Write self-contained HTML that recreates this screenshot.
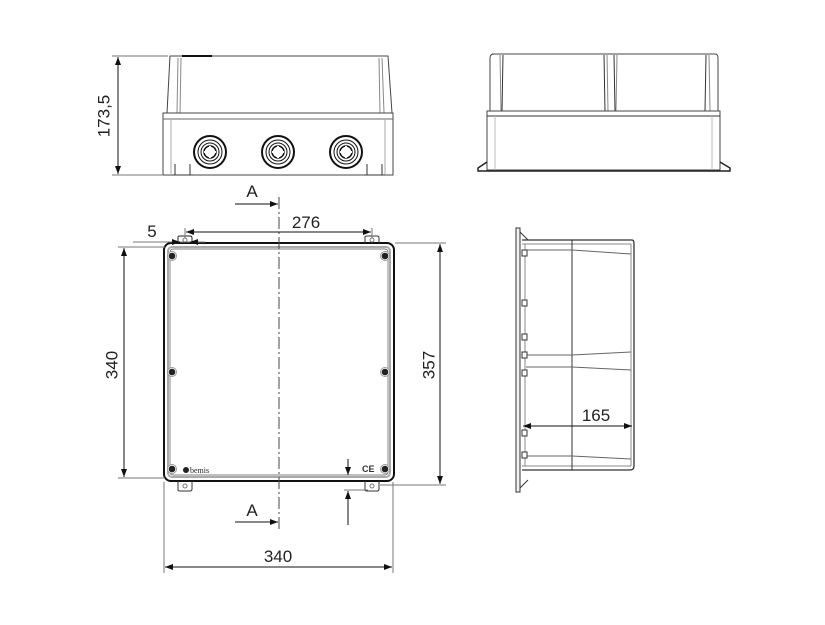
<!DOCTYPE html>
<html><head><style>body{margin:0;background:#fff}svg{display:block}</style></head>
<body>
<svg width="825" height="625" viewBox="0 0 825 625" xmlns="http://www.w3.org/2000/svg" font-family="Liberation Sans, sans-serif">
<defs>
<marker id="ar" markerWidth="8" markerHeight="6" refX="8" refY="3" orient="auto-start-reverse" markerUnits="userSpaceOnUse"><path d="M0,0 L8,3 L0,6 Z" fill="#111"/></marker>
<g id="scr"><circle r="4.5" fill="#fff" stroke="#999" stroke-width="1"/><circle r="3.3" fill="#222"/></g>
</defs>
<g stroke="#333" fill="none" stroke-width="1">
<!-- front view -->
<path d="M170,56 L388,56 L392,113 L167,113 Z" stroke="#444"/>
<line x1="178" y1="58" x2="177" y2="113" stroke="#888"/>
<line x1="181" y1="58" x2="180" y2="113" stroke="#888"/>
<line x1="379" y1="58" x2="380" y2="113" stroke="#888"/>
<line x1="382" y1="58" x2="384" y2="113" stroke="#888"/>
<line x1="182" y1="56" x2="212" y2="56" stroke="#111" stroke-width="2"/>
<rect x="163" y="113" width="230" height="62" stroke="#444"/>
<line x1="163" y1="119" x2="393" y2="119" stroke="#666"/>
<line x1="171" y1="119" x2="171" y2="175" stroke="#aaa"/>
<line x1="385" y1="119" x2="385" y2="175" stroke="#aaa"/>
<g id="gl" stroke="#111">
<circle cx="210" cy="152" r="16" stroke-width="2"/><circle cx="210" cy="152" r="12"/><circle cx="210" cy="152" r="9"/><circle cx="210" cy="152" r="6" stroke-width="1.5"/>
<line x1="204" y1="152" x2="216" y2="152" stroke="#fff" stroke-width="2"/><line x1="210" y1="146" x2="210" y2="158" stroke="#fff" stroke-width="2"/>
</g>
<use href="#gl" x="68"/><use href="#gl" x="136"/>
<path d="M175,175 L175,164 M190,175 L190,164 M172,175 L193,175" stroke="#333"/>
<path d="M367,175 L367,164 M382,175 L382,164 M364,175 L385,175" stroke="#333"/>
<!-- dim 173.5 -->
<line x1="112" y1="56" x2="168" y2="56" stroke="#777"/>
<line x1="112" y1="175" x2="163" y2="175" stroke="#777"/>
<line x1="118" y1="57" x2="118" y2="174" marker-start="url(#ar)" marker-end="url(#ar)" stroke="#111"/>
<!-- right top view -->
<path d="M492,54 L715,54 Q718,54 718,58 L718,111 L490,111 L490,58 Q490,54 494,54" stroke="#444"/>
<line x1="500" y1="55" x2="501" y2="111" stroke="#888"/><line x1="503" y1="55" x2="502" y2="111"/>
<line x1="604" y1="55" x2="605" y2="111"/><line x1="607" y1="55" x2="608" y2="111" stroke="#888"/>
<line x1="614" y1="55" x2="615" y2="111"/><line x1="617" y1="55" x2="616" y2="111" stroke="#888"/>
<line x1="706" y1="55" x2="705" y2="111"/><line x1="709" y1="55" x2="710" y2="111" stroke="#888"/>
<rect x="487" y="111" width="233" height="59" stroke="#444"/>
<line x1="487" y1="116" x2="720" y2="116"/>
<line x1="495" y1="116" x2="495" y2="170" stroke="#bbb"/><line x1="712" y1="116" x2="712" y2="170" stroke="#bbb"/>
<path d="M487,162 L478,168 L478,171 L730,171 L730,168 L720,162" stroke="#222" stroke-width="1.5"/>
<!-- plan view -->
<rect x="164" y="243" width="230" height="238" rx="7" stroke="#111" stroke-width="2"/>
<rect x="168" y="247" width="222" height="230" rx="4" stroke="#aaa" stroke-width="2"/>
<rect x="170" y="249" width="218" height="226" rx="3" stroke="#555" stroke-width="0.7"/>
<path d="M178,243 L178,237 Q178,236 180,236 L190,236 Q192,236 192,238 L192,243" stroke="#222"/>
<path d="M365,243 L365,237 Q365,236 367,236 L377,236 Q379,236 379,238 L379,243"/>
<path d="M178,481 L178,490 Q178,491 180,491 L190,491 Q192,491 192,489 L192,481"/>
<path d="M365,481 L365,490 Q365,491 367,491 L377,491 Q379,491 379,489 L379,481"/>
<circle cx="185" cy="240" r="2" stroke="#777"/><circle cx="372" cy="240" r="2" stroke="#777"/>
<circle cx="185" cy="486" r="2" stroke="#777"/><circle cx="372" cy="486" r="2" stroke="#777"/>
<line x1="279" y1="197" x2="279" y2="530" stroke="#444" stroke-dasharray="12,3,2,3"/>
<!-- section A -->
<line x1="235" y1="204" x2="278" y2="204" marker-end="url(#ar)" stroke="#111"/>
<line x1="235" y1="522" x2="278" y2="522" marker-end="url(#ar)" stroke="#111"/>
<!-- dim 276 -->
<line x1="186" y1="232" x2="371" y2="232" marker-start="url(#ar)" marker-end="url(#ar)" stroke="#111"/>
<line x1="185" y1="228" x2="185" y2="238" stroke="#777"/><line x1="372" y1="228" x2="372" y2="238" stroke="#777"/>
<!-- dim 5 -->
<line x1="133" y1="242" x2="205" y2="242" stroke="#777"/>
<line x1="174" y1="242" x2="180" y2="242" marker-end="url(#ar)" stroke="#111"/>
<line x1="196" y1="242" x2="190" y2="242" marker-end="url(#ar)" stroke="#111"/>
<!-- dim 340 vertical -->
<line x1="118" y1="247" x2="165" y2="247" stroke="#777"/>
<line x1="118" y1="478" x2="165" y2="478" stroke="#777"/>
<line x1="124" y1="248" x2="124" y2="477" marker-start="url(#ar)" marker-end="url(#ar)" stroke="#111"/>
<!-- dim 357 -->
<line x1="395" y1="243" x2="446" y2="243" stroke="#777"/>
<line x1="380" y1="485" x2="446" y2="485" stroke="#777"/>
<line x1="440" y1="244" x2="440" y2="484" marker-start="url(#ar)" marker-end="url(#ar)" stroke="#111"/>
<!-- dim 340 bottom -->
<line x1="164" y1="482" x2="164" y2="573" stroke="#777"/>
<line x1="393" y1="482" x2="393" y2="573" stroke="#777"/>
<line x1="165" y1="567" x2="392" y2="567" marker-start="url(#ar)" marker-end="url(#ar)" stroke="#111"/>
<!-- small arrows -->
<line x1="348" y1="459" x2="348" y2="475" marker-end="url(#ar)" stroke="#111"/>
<line x1="348" y1="525" x2="348" y2="491" marker-end="url(#ar)" stroke="#111"/>
<line x1="344" y1="490" x2="368" y2="490" stroke="#777"/>
<!-- side section view -->
<path d="M516,228 L516,492 L520,492 L520,228 Z" stroke="#333" fill="#f2f2f2"/>
<path d="M520,232 L528,240 M520,488 L528,480" stroke="#333"/>
<path d="M522,240 L632,240 Q634,240 634,244 L634,466 Q634,470 630,470 L522,470" stroke="#333" stroke-width="1.3"/>
<line x1="522" y1="244" x2="631" y2="244" stroke="#888"/>
<line x1="522" y1="466" x2="631" y2="466" stroke="#888"/>
<line x1="631" y1="244" x2="631" y2="466" stroke="#888"/>
<line x1="572" y1="240" x2="572" y2="470"/>
<path d="M526,250 L572,250 L631,254" stroke="#666"/>
<path d="M526,355 L572,355 L631,352" stroke="#666"/>
<path d="M526,367 L572,367 L631,370" stroke="#666"/>
<path d="M526,456 L572,456 L631,459" stroke="#666"/>
<line x1="525" y1="244" x2="525" y2="466" stroke="#888"/>
<g fill="#fff" stroke="#333"><rect x="522" y="250" width="5" height="6"/><rect x="522" y="300" width="5" height="6"/><rect x="522" y="334" width="5" height="6"/><rect x="522" y="352" width="5" height="6"/><rect x="522" y="370" width="5" height="6"/><rect x="522" y="430" width="5" height="6"/><rect x="522" y="452" width="5" height="6"/></g>
<!-- dim 165 -->
<line x1="523" y1="426" x2="632" y2="426" marker-start="url(#ar)" marker-end="url(#ar)" stroke="#111"/>
</g>
<use href="#scr" x="172" y="256"/><use href="#scr" x="385" y="256"/>
<use href="#scr" x="172" y="372"/><use href="#scr" x="385" y="372"/>
<use href="#scr" x="172" y="469"/><use href="#scr" x="385" y="469"/>
<g fill="#222" font-size="17">
<text x="105" y="116" text-anchor="middle" transform="rotate(-90 105 116)" dominant-baseline="middle">173,5</text>
<text x="252" y="197" text-anchor="middle">A</text>
<text x="252" y="516" text-anchor="middle">A</text>
<text x="306" y="228" text-anchor="middle">276</text>
<text x="152" y="237" text-anchor="middle">5</text>
<text x="113" y="365" text-anchor="middle" transform="rotate(-90 113 365)" dominant-baseline="middle">340</text>
<text x="430" y="365" text-anchor="middle" transform="rotate(-90 430 365)" dominant-baseline="middle">357</text>
<text x="278" y="562" text-anchor="middle">340</text>
<text x="596" y="421" text-anchor="middle">165</text>
</g>
<text x="190" y="473" font-family="Liberation Serif, serif" font-size="8" fill="#222">bemis</text>
<circle cx="186" cy="470" r="3" fill="#222"/>
<text x="362" y="472" font-size="9" font-weight="bold" fill="#333">CE</text>
</svg>
</body></html>
